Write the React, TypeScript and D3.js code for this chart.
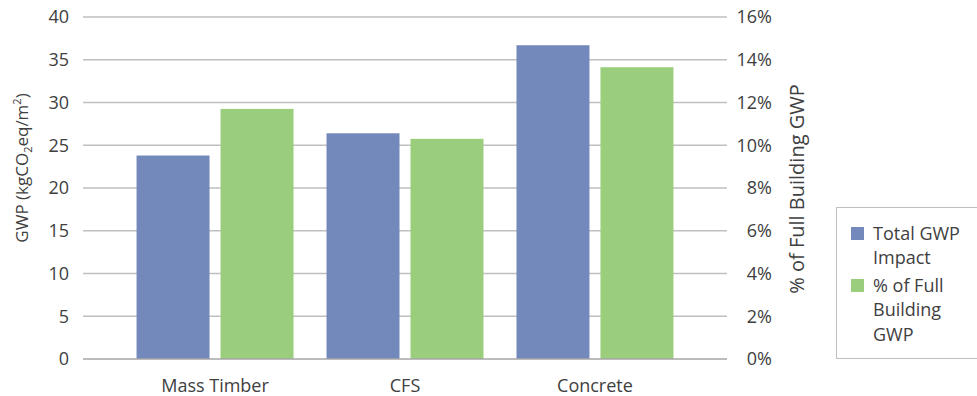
import React, { useEffect, useRef } from 'react';
import * as d3 from 'd3';

const categories = ['Mass Timber', 'CFS', 'Concrete'];
const seriesNames = ['Total GWP Impact', '% of Full Building GWP'];
const totalGwp = [23.8, 26.4, 36.7];
const pctFullBuilding = [11.7, 10.3, 13.65];
const leftTicks = [0, 5, 10, 15, 20, 25, 30, 35, 40];
const rightTicks = [0, 2, 4, 6, 8, 10, 12, 14, 16];
const colors = ['#7389bb', '#9bce7c'];
const legendLines = [['Total GWP', 'Impact'], ['% of Full', 'Building', 'GWP']];

export default function App() {
  const svgRef = useRef<SVGSVGElement>(null);

  useEffect(() => {
    const width = 977;
    const height = 396;
    const left = 83;
    const right = 727;
    const top = 17;
    const bottom = 359;
    const font = "'Open Sans', Lato, sans-serif";
    const textColor = '#404040';

    const svg = d3.select(svgRef.current).attr('width', width).attr('height', height);
    svg.selectAll('*').remove();
    svg.style('font-family', font);

    const x0 = d3.scaleBand().domain(categories).range([left, right]).paddingInner(0).paddingOuter(0.195);
    const x1 = d3
      .scaleBand()
      .domain(seriesNames)
      .range([16.5, x0.bandwidth() - 16.5])
      .paddingInner(0.131);
    const yLeft = d3.scaleLinear().domain([0, 40]).range([bottom, top]);
    const yRight = d3.scaleLinear().domain([0, 16]).range([bottom, top]);

    // gridlines
    svg
      .append('g')
      .selectAll('line')
      .data(leftTicks.filter((d) => d > 0))
      .join('line')
      .attr('x1', left)
      .attr('x2', right)
      .attr('y1', (d) => yLeft(d))
      .attr('y2', (d) => yLeft(d))
      .attr('stroke', '#bfbfbf')
      .attr('stroke-width', 1.3);

    // bars
    const rows = categories.map((c, i) => ({
      cat: c,
      vals: [
        { s: seriesNames[0], y: yLeft(totalGwp[i]), c: colors[0] },
        { s: seriesNames[1], y: yRight(pctFullBuilding[i]), c: colors[1] },
      ],
    }));
    const groups = svg
      .append('g')
      .selectAll('g')
      .data(rows)
      .join('g')
      .attr('transform', (d) => `translate(${x0(d.cat)},0)`);
    groups
      .selectAll('rect')
      .data((d) => d.vals)
      .join('rect')
      .attr('x', (d) => x1(d.s)!)
      .attr('width', x1.bandwidth())
      .attr('y', (d) => d.y)
      .attr('height', (d) => bottom - d.y)
      .attr('fill', (d) => d.c);

    // baseline
    svg
      .append('line')
      .attr('x1', left)
      .attr('x2', right)
      .attr('y1', bottom)
      .attr('y2', bottom)
      .attr('stroke', '#a6a6a6')
      .attr('stroke-width', 1.5);

    // left ticks
    svg
      .append('g')
      .selectAll('text')
      .data(leftTicks)
      .join('text')
      .attr('x', 69)
      .attr('y', (d) => yLeft(d))
      .attr('dy', '0.35em')
      .attr('text-anchor', 'end')
      .attr('font-size', 18)
      .attr('fill', textColor)
      .text((d) => d);

    // right ticks
    svg
      .append('g')
      .selectAll('text')
      .data(rightTicks)
      .join('text')
      .attr('x', 772)
      .attr('y', (d) => yRight(d))
      .attr('dy', '0.35em')
      .attr('text-anchor', 'end')
      .attr('font-size', 18)
      .attr('fill', textColor)
      .text((d) => d + '%');

    // category labels
    svg
      .append('g')
      .selectAll('text')
      .data(categories)
      .join('text')
      .attr('x', (d) => x0(d)! + x0.bandwidth() / 2)
      .attr('y', 392)
      .attr('text-anchor', 'middle')
      .attr('font-size', 18)
      .attr('fill', textColor)
      .text((d) => d);

    // left title
    const lt = svg
      .append('text')
      .attr('transform', 'translate(28,168) rotate(-90)')
      .attr('text-anchor', 'middle')
      .attr('font-size', 17)
      .attr('fill', textColor);
    lt.append('tspan').text('GWP (kgCO');
    lt.append('tspan').attr('font-size', 11).attr('dy', 4).text('2');
    lt.append('tspan').attr('dy', -4).text('eq/m');
    lt.append('tspan').attr('font-size', 11).attr('dy', -7).text('2');
    lt.append('tspan').attr('dy', 7).text(')');

    // right title
    svg
      .append('text')
      .attr('transform', 'translate(804,189) rotate(-90)')
      .attr('text-anchor', 'middle')
      .attr('font-size', 20)
      .attr('fill', textColor)
      .text('% of Full Building GWP');

    // legend
    svg
      .append('rect')
      .attr('x', 836.5)
      .attr('y', 207.5)
      .attr('width', 150)
      .attr('height', 151)
      .attr('fill', 'none')
      .attr('stroke', '#bfbfbf');
    const lg = svg
      .append('g')
      .selectAll('g')
      .data(seriesNames)
      .join('g')
      .attr('transform', (d, i) => `translate(851,${i === 0 ? 227 : 279})`);
    lg.append('rect')
      .attr('width', 13)
      .attr('height', 13)
      .attr('fill', (d, i) => colors[i]);
    lg.append('text')
      .attr('font-size', 18)
      .attr('fill', textColor)
      .selectAll('tspan')
      .data((d, i) => legendLines[i])
      .join('tspan')
      .attr('x', 22)
      .attr('y', (d, j) => 12.5 + j * 24.5)
      .text((d) => d);
  }, []);

  return <svg ref={svgRef} style={{ position: 'absolute', left: 0, top: 0 }}></svg>;
}
